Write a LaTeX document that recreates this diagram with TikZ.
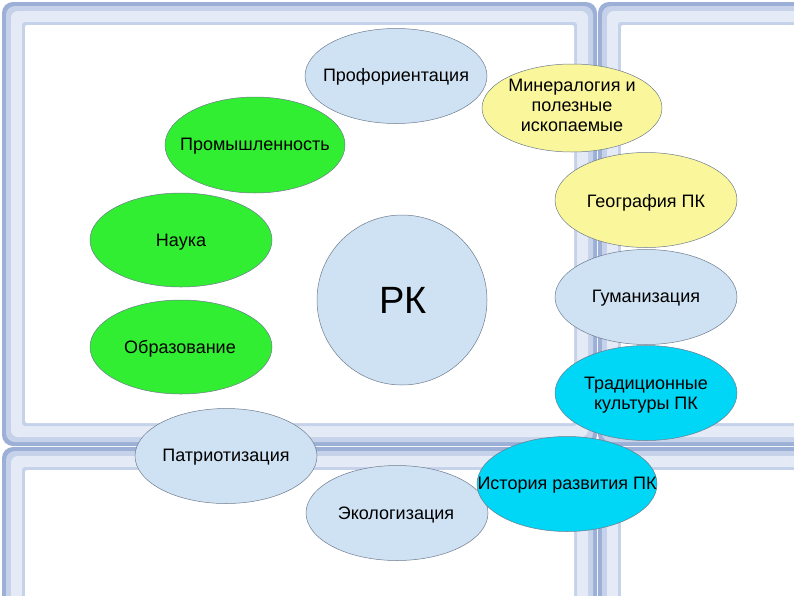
\documentclass[tikz,border=0pt]{standalone}
\usepackage{fontspec}
\setmainfont{Liberation Sans}
\usetikzlibrary{shapes.geometric}

\definecolor{lblue}{RGB}{207,226,243}
\definecolor{vgreen}{RGB}{50,238,50}
\definecolor{lyellow}{RGB}{250,246,155}
\definecolor{vcyan}{RGB}{0,214,246}
\definecolor{edgecol}{RGB}{110,124,142}
\definecolor{frdark}{RGB}{155,175,215}
\definecolor{frmid}{RGB}{198,210,233}
\definecolor{frlight}{RGB}{229,235,246}

\newcommand\winpane[4]{%
  \fill[frdark, rounded corners=11pt] (#1,#2) rectangle (#3,#4);
  \fill[frmid, rounded corners=9pt] ({#1+4},{#2+4}) rectangle ({#3-4},{#4-4});
  \fill[frlight, rounded corners=7pt] ({#1+9},{#2+9}) rectangle ({#3-9},{#4-9});
  \fill[frmid, rounded corners=3pt] ({#1+20},{#2+20}) rectangle ({#3-20},{#4-20});
  \fill[white, rounded corners=2pt] ({#1+23},{#2+23}) rectangle ({#3-23},{#4-23});
}

\begin{document}
\begin{tikzpicture}[x=1pt,y=-1pt,
  ell/.style={ellipse, draw=edgecol, line width=0.5pt, inner sep=0pt,
              minimum width=182pt, minimum height=95pt},
  lbl/.style={font=\fontsize{18}{20}\selectfont, align=center, inner sep=0pt, text=black},
  blueell/.style={ell, fill=lblue},
  greenell/.style={ell, fill=vgreen},
  yellowell/.style={ell, fill=lyellow},
  cyanell/.style={ell, fill=vcyan}
]
\useasboundingbox (0,0) rectangle (794,595);
\fill[white] (0,0) rectangle (794,595);

% window panes in background
\winpane{2}{2}{597}{446}
\winpane{598}{2}{840}{446}
\winpane{2}{447}{597}{650}
\winpane{598}{447}{840}{650}

% ellipses
\node[blueell] (prof) at (396,76) {};
\node[greenell, minimum width=180pt, minimum height=96pt] (prom) at (255,145) {};
\node[yellowell, minimum width=180pt, minimum height=88pt] (miner) at (572,108) {};
\node[yellowell] (geo) at (646,200) {};
\node[greenell, minimum height=94pt] (nauka) at (181,240) {};
\node[ell, circle, fill=lblue, minimum size=170pt] (rk) at (402,300) {};
\node[blueell] (gum) at (646,297) {};
\node[greenell, minimum height=94pt] (obr) at (181,347) {};
\node[cyanell] (trad) at (646,393) {};
\node[blueell] (patr) at (226,456) {};
\node[blueell] (eko) at (397,513) {};
\node[cyanell, minimum width=180pt] (ist) at (567,484) {};

% labels
\node[lbl] (tprof) at (396,77) {Профориентация};
\node[lbl] (tminer) at (572,105) {Минералогия и\\полезные\\ископаемые};
\node[lbl] (tprom) at (255,146) {Промышленность};
\node[lbl] (tgeo) at (646,203) {География ПК};
\node[lbl] (tnauka) at (181,242) {Наука};
\node[font=\fontsize{38}{40}\selectfont, inner sep=0pt] (trk) at (403,300) {РК};
\node[lbl] (tgum) at (646,298) {Гуманизация};
\node[lbl] (tobr) at (180,349) {Образование};
\node[lbl] (ttrad) at (646,395) {Традиционные\\культуры ПК};
\node[lbl] (tpatr) at (226,457) {Патриотизация};
\node[lbl] (tist) at (567,485) {История развития ПК};
\node[lbl] (teko) at (396,515) {Экологизация};
\end{tikzpicture}
\end{document}
